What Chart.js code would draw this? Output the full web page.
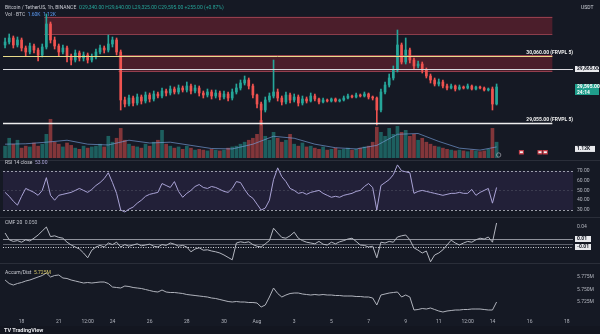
<!DOCTYPE html>
<html>
<head>
<meta charset="utf-8">
<script src="https://cdn.jsdelivr.net/npm/chart.js@4/dist/chart.umd.min.js"></script>
<style>
  html, body { margin: 0; padding: 0; background: #151924; overflow: hidden; }
  #wrap { position: relative; width: 600px; height: 334px; background: #151924;
          font-family: Roboto, "DejaVu Sans", sans-serif; }
  canvas { position: absolute; left: 0; }
  .sep { position: absolute; left: 0; width: 600px; height: 1px; background: #2a2e39; }
  .t { position: absolute; white-space: nowrap; font-size: 5px; line-height: 6px; color: #c9cbd3; }
  .up { color: #26a69a; }
  .blue { color: #5b9cf6; }
  .ylw { color: #d8c96a; }
  #foot { position: absolute; left: 0; top: 326px; width: 600px; height: 8px; background: #131620; }
</style>
</head>
<body>
<div id="wrap">
  <canvas id="cPrice" width="600" height="160" style="top:0"></canvas>
  <canvas id="cRsi" width="600" height="57" style="top:160px"></canvas>
  <canvas id="cCmf" width="600" height="46" style="top:217px"></canvas>
  <canvas id="cAd" width="600" height="63" style="top:263px"></canvas>
  <div class="sep" style="top:160px"></div>
  <div class="sep" style="top:217px"></div>
  <div class="sep" style="top:263px"></div>
  <div class="t" id="hdr1" style="left:5px;top:4px"></div>
  <div class="t" id="hdr2" style="left:5px;top:11px"></div>
  <div class="t" id="hdrRsi" style="left:5px;top:159px"></div>
  <div class="t" id="hdrCmf" style="left:5px;top:219px"></div>
  <div class="t" id="hdrAd" style="left:5px;top:269px"></div>
  <div class="t" style="left:581px;top:4px;color:#d1d4dc">USDT</div>
  <div id="foot"><div class="t" style="left:4px;top:1px;font-weight:bold;color:#e6e7eb;font-size:5.5px">TV TradingView</div></div>
</div>
<script>
// ---- BTC/USDT candles ----
const opens = [30225,30270,30330,30225,30300,30180,30120,30210,30150,30075,
  30195,30540,30300,30210,30120,30180,30060,30000,30105,30030,
  30075,30000,30045,30120,30180,30150,30240,30300,30120,29400,
  29340,29430,29355,29445,29385,29475,29415,29490,29460,29535,
  29505,29565,29520,29580,29550,29610,29535,29580,29505,29475,
  29520,29460,29505,29445,29490,29430,29520,29580,29655,29700,
  29610,29475,29340,29250,29400,29460,29520,29430,29370,29475,
  29400,29445,29355,29415,29385,29460,29415,29370,29400,29385,
  29415,29385,29400,29430,29460,29445,29475,29460,29490,29445,
  29430,29250,29520,29625,29730,29850,30225,29970,30150,30000,
  29910,29940,29850,29760,29700,29640,29670,29610,29580,29610,
  29565,29595,29580,29610,29565,29595,29580,29550,29565,29340];
const highs = [30330,30390,30360,30345,30330,30210,30255,30240,30180,30240,
  30690,30570,30345,30240,30225,30210,30090,30150,30135,30120,
  30105,30090,30165,30225,30210,30375,30345,30330,30150,29445,
  29475,29460,29490,29475,29520,29505,29535,29520,29580,29565,
  29610,29595,29625,29610,29670,29640,29625,29610,29535,29565,
  29550,29550,29535,29535,29520,29565,29640,29700,29760,29730,
  29640,29490,29370,29445,29505,30000,29565,29460,29520,29505,
  29490,29475,29460,29445,29505,29490,29430,29430,29415,29430,
  29430,29415,29460,29490,29475,29505,29490,29520,29505,29460,
  29445,29565,29670,29790,29910,30450,30255,30330,30180,30030,
  29985,29970,29880,29790,29730,29715,29700,29640,29640,29625,
  29625,29610,29640,29625,29610,29610,29595,29580,29595,29640];
const lows = [30180,30240,30180,30195,30135,30060,30090,30105,29985,30045,
  30165,30255,30165,30060,30090,29970,29925,29970,29985,29985,
  29955,29970,30015,30090,30105,30120,30195,30075,29250,29295,
  29310,29310,29325,29340,29355,29370,29385,29430,29430,29460,
  29475,29490,29490,29520,29520,29490,29505,29460,29430,29445,
  29415,29430,29400,29415,29385,29400,29490,29550,29625,29565,
  29430,29280,29025,29220,29370,29430,29385,29325,29340,29355,
  29370,29310,29325,29355,29370,29385,29340,29355,29370,29370,
  29370,29370,29385,29415,29430,29430,29445,29445,29415,29400,
  29025,29220,29490,29595,29700,29820,29940,29940,29955,29865,
  29880,29805,29730,29655,29610,29610,29580,29550,29565,29535,
  29550,29565,29565,29550,29550,29565,29535,29535,29250,29325];
const closes = [30270,30330,30225,30300,30180,30120,30210,30150,30075,30195,
  30540,30300,30210,30120,30180,30060,30000,30105,30030,30075,
  30000,30045,30120,30180,30150,30240,30300,30120,29400,29340,
  29430,29355,29445,29385,29475,29415,29490,29460,29535,29505,
  29565,29520,29580,29550,29610,29535,29580,29505,29475,29520,
  29460,29505,29445,29490,29430,29520,29580,29655,29700,29610,
  29475,29340,29250,29400,29460,29520,29430,29370,29475,29400,
  29445,29355,29415,29385,29460,29415,29370,29400,29385,29415,
  29385,29400,29430,29460,29445,29475,29460,29490,29445,29430,
  29250,29520,29625,29730,29850,30225,29970,30150,30000,29910,
  29940,29850,29760,29700,29640,29670,29610,29580,29610,29565,
  29595,29580,29610,29565,29595,29580,29550,29565,29340,29595];

// volume in BTC, plus its moving average sampled every few bars
const volumes = [1200,2000,1400,1800,1000,1200,1120,1520,1200,1400,
  2400,3920,1600,1400,1120,1520,1280,1000,880,1200,
  1000,1120,1200,1400,1120,2200,1600,2000,3000,1800,
  1400,1200,1120,1000,1400,1200,1600,1800,2800,1400,
  1200,1000,1120,880,1200,1000,800,880,800,720,
  880,800,720,800,1000,1120,1200,1400,1600,1800,
  2000,2400,3800,2200,1800,2600,2000,1600,1800,2400,
  1400,1200,1520,1120,1200,1000,880,1120,800,880,
  1000,800,880,1000,800,880,1000,1120,1200,1600,
  3120,2600,2200,3000,2400,3200,2600,2800,2200,2400,
  1800,2000,1600,1400,1200,1120,1000,880,800,720,
  800,720,640,800,720,640,720,880,3000,1600];
const volMaBars = [0,5,10,15,20,25,30,35,40,45,50,55,60,65,70,75,80,85,90,95,100,105,110,115,119];
const volMa = [1400,1440,1600,1800,1400,1320,1800,1520,1600,1280,960,920,1400,2200,2000,1400,1040,920,1280,2400,2480,1680,1000,800,1120];

// RSI 14
const rsi = [48,44,39,35,44,52,50,48,45,50,63,45,40,45,46,47,48,50,52,50,
  48,51,55,58,62,68,58,47,30,28,31,33,37,40,44,46,47,48,57,55,
  53,59,49,43,47,50,54,56,53,52,54,53,51,49,48,52,59,58,51,45,
  42,36,30,32,40,61,73,64,59,52,50,47,48,46,48,49,50,47,45,43,
  44,43,45,46,47,49,50,54,57,53,30,55,58,61,66,76,70,69,68,47,
  49,50,49,48,47,46,45,46,47,47,48,47,47,51,45,48,50,52,37,53];
const rsiUpper = 70, rsiMid = 50, rsiLower = 30;

// Chaikin money flow
const cmf = [0.025,0.008,0.004,0.006,0.002,0.008,0.005,0.012,0.02,0.03,
  0.04,0.016,0.018,0.014,0.012,0.002,-0.005,-0.01,-0.015,-0.025,
  -0.037,-0.018,-0.01,-0.006,-0.01,0.0,-0.004,0.002,-0.01,-0.004,
  -0.008,-0.005,-0.002,-0.007,-0.005,-0.003,-0.008,-0.01,-0.004,-0.006,
  0.0,-0.003,-0.008,-0.006,-0.01,-0.022,-0.015,-0.012,-0.018,-0.017,
  -0.02,-0.022,-0.025,-0.03,-0.036,-0.042,0.0,0.003,0.001,0.003,
  -0.004,-0.008,-0.01,-0.002,0.006,0.037,0.025,0.014,0.012,0.018,
  0.027,0.012,0.006,0.002,0.0,-0.002,0.004,-0.003,-0.005,0.002,
  -0.002,0.003,0.006,0.01,0.012,0.004,-0.005,-0.006,-0.01,-0.008,
  -0.037,0.002,0.0,0.004,0.002,0.015,0.018,0.02,0.008,-0.012,
  -0.018,-0.025,-0.02,-0.047,-0.03,-0.025,-0.017,-0.005,0.007,0.0,
  -0.005,0.0,0.004,0.002,0.008,0.012,0.01,0.015,0.002,0.05];
const cmfLevels = [0.01, -0.0025, -0.01];

// Accumulation / distribution, millions
const accDist = [5.769,5.762,5.759,5.762,5.764,5.767,5.769,5.772,5.775,5.778,
  5.783,5.775,5.778,5.779,5.773,5.772,5.769,5.767,5.765,5.763,
  5.764,5.763,5.764,5.765,5.765,5.762,5.755,5.754,5.753,5.757,
  5.756,5.754,5.753,5.752,5.750,5.748,5.746,5.745,5.749,5.745,
  5.744,5.744,5.743,5.742,5.740,5.739,5.738,5.737,5.736,5.735,
  5.733,5.732,5.730,5.728,5.726,5.725,5.726,5.725,5.725,5.724,
  5.724,5.723,5.715,5.719,5.735,5.753,5.742,5.735,5.739,5.742,
  5.743,5.743,5.741,5.740,5.739,5.740,5.739,5.740,5.739,5.739,
  5.738,5.738,5.737,5.737,5.737,5.736,5.736,5.735,5.735,5.733,
  5.719,5.739,5.741,5.743,5.744,5.745,5.735,5.739,5.735,5.709,
  5.710,5.712,5.711,5.713,5.710,5.707,5.705,5.707,5.708,5.709,
  5.709,5.710,5.710,5.711,5.711,5.711,5.710,5.709,5.709,5.725];

// supply / resistance zones and volume-profile levels on the price pane
const zoneTop = [30650, 30075];
const zoneBottom = [30380, 29820];
const zoneFromBar = [10, 28];
const zoneToBar = [132, 132];
const levelPrice = [30060, 29865, 29055];
const levelToBar = [132, 137, 132];
const levelTag = ['FRVPL 5', '', 'FRVPL 5'];

// time axis: 138 bar slots, only some carry a date label
const slots = Array.from({ length: 138 }, (_, i) => String(i));
const xTickBars = [4, 13, 20, 26, 35, 44, 53, 61, 70, 79, 88, 97, 105, 112, 118, 127, 136];
const xTickText = ['18', '21', '12:00', '24', '26', '28', '30', 'Aug', '3', '5', '7', '9', '11', '12:00', '14', '16', '18'];

// ---------------------------------------------------------------
const UP = '#26a69a', DOWN = '#ef5350';
const FONT = 'Roboto, "DejaVu Sans", sans-serif';
Chart.defaults.font.family = FONT;
Chart.defaults.color = '#b2b5be';
const tickFont = { size: 5 };
const last = closes.length - 1;
const isUp = closes.map((c, i) => c >= opens[i]);
const fmt2 = v => v.toLocaleString('en-US', { minimumFractionDigits: 2, maximumFractionDigits: 2 });
const fmtK = v => (v / 1000).toFixed(2) + 'K';
const onStep = (v, s) => Math.abs(v / s - Math.round(v / s)) < 1e-6;

function xAxis(show) {
  return {
    type: 'category', labels: slots, offset: true, display: show,
    grid: { display: false, drawTicks: false }, border: { display: false },
    ticks: {
      autoSkip: false, maxRotation: 0, minRotation: 0, padding: 3, font: tickFont, color: '#b2b5be',
      callback: (v, i) => { const k = xTickBars.indexOf(i); return k < 0 ? '' : xTickText[k]; }
    },
    afterFit: s => { s.height = show ? 10 : 0; s.paddingLeft = 0; s.paddingRight = 0; }
  };
}
function yAxis(min, max, step, keep, fmt) {
  return {
    position: 'right', min, max,
    grid: { display: false, drawTicks: false }, border: { display: false },
    ticks: { stepSize: step, font: tickFont, color: '#b2b5be', padding: 4, callback: fmt },
    afterBuildTicks: s => { s.ticks = s.ticks.filter(t => keep(t.value)); },
    afterFit: s => { s.width = 27; s.paddingTop = 0; s.paddingBottom = 0; }
  };
}
const baseOpts = (bottom) => ({
  responsive: false, animation: false, devicePixelRatio: 1,
  layout: { autoPadding: false, padding: { left: 3, right: 0, top: 0, bottom } },
  plugins: { legend: { display: false }, tooltip: { enabled: false } },
  events: []
});

function tagBox(ctx, x, y, w, h, bg, fg, lines) {
  ctx.fillStyle = bg;
  ctx.fillRect(x, y - h / 2, w, h);
  ctx.fillStyle = fg;
  ctx.font = 'bold 5px ' + FONT;
  ctx.textAlign = 'left';
  ctx.textBaseline = 'middle';
  const lh = h / lines.length;
  lines.forEach((s, k) => ctx.fillText(s, x + 2, y - h / 2 + lh * (k + 0.5)));
}

// ---- price + volume pane ----
const pricePlugin = {
  id: 'priceLevels',
  beforeDatasetsDraw(c) {
    const { ctx, scales: { x, y } } = c;
    const half = (x.getPixelForValue(1) - x.getPixelForValue(0)) / 2;
    ctx.save();
    zoneTop.forEach((top, k) => {
      const x0 = x.getPixelForValue(zoneFromBar[k]) - half;
      const x1 = x.getPixelForValue(zoneToBar[k]) + half;
      const y0 = y.getPixelForValue(top), y1 = y.getPixelForValue(zoneBottom[k]);
      ctx.fillStyle = 'rgba(150,38,55,0.42)';
      ctx.fillRect(x0, y0, x1 - x0, y1 - y0);
      ctx.strokeStyle = 'rgba(210,90,105,0.55)';
      ctx.lineWidth = 1;
      ctx.beginPath();
      ctx.moveTo(x0, Math.round(y0) + 0.5); ctx.lineTo(x1, Math.round(y0) + 0.5);
      ctx.moveTo(x0, Math.round(y1) - 0.5); ctx.lineTo(x1, Math.round(y1) - 0.5);
      ctx.stroke();
    });
    ctx.restore();
  },
  afterDatasetsDraw(c) {
    const { ctx, chartArea: a, scales: { x, y } } = c;
    const half = (x.getPixelForValue(1) - x.getPixelForValue(0)) / 2;
    const colors = ['#e9dc8a', '#d9dadf', '#eeeeee'];
    const widths = [1, 1, 1.4];
    ctx.save();
    levelPrice.forEach((p, k) => {
      const py = Math.round(y.getPixelForValue(p)) + 0.5;
      const x1 = Math.min(a.right, x.getPixelForValue(levelToBar[k]) + half);
      ctx.strokeStyle = colors[k];
      ctx.lineWidth = widths[k];
      ctx.beginPath(); ctx.moveTo(a.left, py); ctx.lineTo(x1, py); ctx.stroke();
      if (levelTag[k]) {
        ctx.fillStyle = '#f2f2f2';
        ctx.font = 'bold 5px ' + FONT;
        ctx.textAlign = 'right';
        ctx.textBaseline = 'bottom';
        ctx.fillText(fmt2(p) + ' (' + levelTag[k] + ')', a.right, py - 1.5);
      }
    });
    ctx.restore();
  },
  afterDraw(c) {
    const { ctx, chartArea: a, scales: { x, y, yVol } } = c;
    ctx.save();
    // event badges on the time line
    [125, 129.5, 130.8].forEach(b => {
      const bx = x.getPixelForValue(b);
      ctx.fillStyle = '#c23a45';
      ctx.fillRect(bx - 2.5, 150, 5, 4.5);
      ctx.fillStyle = '#f4f4f4';
      ctx.fillRect(bx - 1.5, 151.3, 3, 1.8);
    });
    ctx.strokeStyle = '#9598a1';
    ctx.lineWidth = 0.8;
    ctx.beginPath(); ctx.arc(x.getPixelForValue(last + 0.5), 155, 2.2, 0, Math.PI * 2); ctx.stroke();
    // axis tags
    tagBox(ctx, a.right + 2, y.getPixelForValue(levelPrice[1]), 24, 6, '#e8e9ed', '#131722', [fmt2(levelPrice[1])]);
    tagBox(ctx, a.right + 2, y.getPixelForValue(closes[last]) + 2.5, 24, 11, '#1f9d8b', '#ffffff', [fmt2(closes[last]), '24:14']);
    tagBox(ctx, a.right + 2, yVol.getPixelForValue(volMa[volMa.length - 1]) + 2, 20, 6, '#e8e9ed', '#131722', [fmtK(volMa[volMa.length - 1])]);
    ctx.restore();
  }
};

new Chart(document.getElementById('cPrice'), {
  data: {
    labels: slots,
    datasets: [
      { type: 'bar', data: lows.map((l, i) => [l, highs[i]]), yAxisID: 'y',
        backgroundColor: isUp.map(u => u ? UP : DOWN), barThickness: 1, grouped: false, order: 1 },
      { type: 'bar', data: opens.map((o, i) => [o, closes[i]]), yAxisID: 'y',
        backgroundColor: isUp.map(u => u ? UP : DOWN), barThickness: 2, minBarLength: 1, grouped: false, order: 0 },
      { type: 'bar', data: volumes, yAxisID: 'yVol',
        backgroundColor: isUp.map(u => u ? 'rgba(38,166,154,0.5)' : 'rgba(239,83,80,0.5)'),
        barThickness: 3, grouped: false, order: 3 },
      { type: 'line', data: volMaBars.map((b, k) => ({ x: slots[b], y: volMa[k] })), yAxisID: 'yVol',
        borderColor: 'rgba(120,160,220,0.65)', borderWidth: 1, pointRadius: 0, order: 2 }
    ]
  },
  options: Object.assign(baseOpts(2), {
    scales: {
      x: xAxis(false),
      y: yAxis(28530, 30900, 200, v => onStep(v, 200) && v < 30700, v => fmt2(v)),
      yVol: { display: false, min: 0, max: 16000 }
    }
  }),
  plugins: [pricePlugin]
});

// ---- RSI pane ----
new Chart(document.getElementById('cRsi'), {
  type: 'line',
  data: { labels: slots, datasets: [{ data: rsi, borderColor: '#aaa3d6', borderWidth: 1, pointRadius: 0, tension: 0 }] },
  options: Object.assign(baseOpts(0), {
    scales: {
      x: xAxis(false),
      y: yAxis(22.9, 81, 10, v => onStep(v, 10) && v >= 30 && v <= 80, v => v.toFixed(2))
    }
  }),
  plugins: [{
    id: 'rsiBand',
    beforeDatasetsDraw(c) {
      const { ctx, chartArea: a, scales: { y } } = c;
      const t = y.getPixelForValue(rsiUpper), b = y.getPixelForValue(rsiLower), m = y.getPixelForValue(rsiMid);
      ctx.save();
      ctx.fillStyle = 'rgba(126,87,194,0.13)';
      ctx.fillRect(a.left, t, a.right - a.left, b - t);
      ctx.setLineDash([2, 2]);
      ctx.lineWidth = 1;
      ctx.strokeStyle = 'rgba(210,212,222,0.7)';
      ctx.beginPath();
      ctx.moveTo(a.left, Math.round(t) + 0.5); ctx.lineTo(a.right, Math.round(t) + 0.5);
      ctx.moveTo(a.left, Math.round(b) + 0.5); ctx.lineTo(a.right, Math.round(b) + 0.5);
      ctx.stroke();
      ctx.strokeStyle = 'rgba(140,142,155,0.25)';
      ctx.beginPath(); ctx.moveTo(a.left, Math.round(m) + 0.5); ctx.lineTo(a.right, Math.round(m) + 0.5); ctx.stroke();
      ctx.restore();
    }
  }]
});

// ---- CMF pane ----
new Chart(document.getElementById('cCmf'), {
  type: 'line',
  data: { labels: slots, datasets: [{ data: cmf, borderColor: '#b4b7c0', borderWidth: 1, pointRadius: 0, tension: 0 }] },
  options: Object.assign(baseOpts(0), {
    scales: {
      x: xAxis(false),
      y: yAxis(-0.05, 0.065, 0.04, v => onStep(v, 0.04) && Math.abs(v) > 0.01, v => v.toFixed(2))
    }
  }),
  plugins: [{
    id: 'cmfLevels',
    beforeDatasetsDraw(c) {
      const { ctx, chartArea: a, scales: { y } } = c;
      const styles = [['#8f929c', []], ['#5d606b', []], ['#d8d9de', [1, 1.5]]];
      ctx.save();
      cmfLevels.forEach((v, k) => {
        const py = Math.round(y.getPixelForValue(v)) + 0.5;
        ctx.strokeStyle = styles[k][0];
        ctx.setLineDash(styles[k][1]);
        ctx.lineWidth = 1;
        ctx.beginPath(); ctx.moveTo(a.left, py); ctx.lineTo(a.right, py); ctx.stroke();
      });
      ctx.restore();
    },
    afterDraw(c) {
      const { ctx, chartArea: a, scales: { y } } = c;
      ctx.save();
      tagBox(ctx, a.right + 2, y.getPixelForValue(cmfLevels[0]), 16, 6, '#e8e9ed', '#131722', [cmfLevels[0].toFixed(2)]);
      tagBox(ctx, a.right + 2, y.getPixelForValue(cmfLevels[2]), 16, 6, '#e8e9ed', '#131722', [cmfLevels[2].toFixed(2)]);
      ctx.restore();
    }
  }]
});

// ---- Accumulation / distribution pane ----
new Chart(document.getElementById('cAd'), {
  type: 'line',
  data: { labels: slots, datasets: [{ data: accDist, borderColor: '#b0b3bc', borderWidth: 1, pointRadius: 0, tension: 0 }] },
  options: Object.assign(baseOpts(0), {
    scales: {
      x: xAxis(true),
      y: yAxis(5.697, 5.803, 0.025, v => onStep(v, 0.025) && v > 5.69 && v < 5.79, v => v.toFixed(3) + 'M')
    }
  })
});

// ---- pane headers, built from the data ----
const chg = closes[last] - opens[last];
document.getElementById('hdr1').innerHTML =
  'Bitcoin / TetherUS, 1h, BINANCE &nbsp;<span class="up">O' + fmt2(opens[last]) + ' H' + fmt2(highs[last]) +
  ' L' + fmt2(lows[last]) + ' C' + fmt2(closes[last]) + ' ' + (chg >= 0 ? '+' : '') + fmt2(chg) +
  ' (' + (chg >= 0 ? '+' : '') + (chg / opens[last] * 100).toFixed(2) + '%)</span>';
document.getElementById('hdr2').innerHTML =
  'Vol · BTC &nbsp;<span class="blue">' + fmtK(volumes[last]) + ' &nbsp;' + fmtK(volMa[volMa.length - 1]) + '</span>';
document.getElementById('hdrRsi').innerHTML = 'RSI 14 close &nbsp;<span style="color:#aaa3d6">' + rsi[last].toFixed(2) + '</span>';
document.getElementById('hdrCmf').innerHTML = 'CMF 20 &nbsp;<span style="color:#b4b7c0">' + cmf[last].toFixed(3) + '</span>';
document.getElementById('hdrAd').innerHTML = 'Accum/Dist &nbsp;<span class="ylw">' + accDist[last].toFixed(3) + 'M</span>';
</script>
</body>
</html>
